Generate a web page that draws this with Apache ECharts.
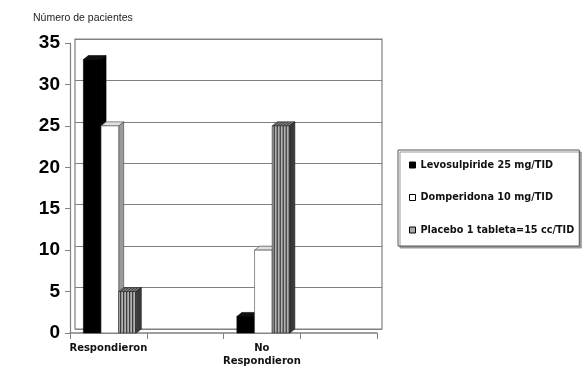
<!DOCTYPE html>
<html>
<head>
<meta charset="utf-8">
<script src="https://cdn.jsdelivr.net/npm/echarts@6/dist/echarts.min.js"></script>
<style>
  html, body { margin: 0; padding: 0; background: #fff; }
  #main { width: 587px; height: 368px; }
</style>
</head>
<body>
<div id="main"></div>
<script>
// categorias (las vacias son huecos del eje)
const categories = ['Respondieron', ' ', 'No\nRespondieron', '  '];
const seriesNames = ['Levosulpiride 25 mg/TID', 'Domperidona 10 mg/TID', 'Placebo 1 tableta=15 cc/TID'];
const levosulpiride = [33, null, 2, null];
const domperidona = [25, null, 10, null];
const placebo = [5, null, 25, null];
const yTicks = [0, 5, 10, 15, 20, 25, 30, 35];

const chart = echarts.init(document.getElementById('main'), null, { renderer: 'canvas' });

// profundidad 3D de las barras
const DX = 5, DY = -4;

function toData(arr) {
    let out = [];
    arr.forEach((v, i) => {
        if (v !== null) out.push([i, v]);
    });
    return out;
}

function makeRender(idx, look) {
    return function (params, api) {
        const top = api.coord([api.value(0), api.value(1)]);
        const base = api.coord([api.value(0), 0]);
        const w = api.size([1, 0])[0];
        const bw = w * 0.23;
        const x0 = top[0] - 1.5 * bw + idx * bw + 1.5;
        const x1 = x0 + bw;
        const y0 = top[1], y1 = base[1];
        let children = [];
        // cara lateral
        children.push({
            type: 'polygon',
            shape: { points: [[x1, y0], [x1 + DX, y0 + DY], [x1 + DX, y1 + DY], [x1, y1]] },
            style: { fill: look.side, stroke: look.stroke, lineWidth: 0.6 }
        });
        // cara superior
        children.push({
            type: 'polygon',
            shape: { points: [[x0, y0], [x0 + DX, y0 + DY], [x1 + DX, y0 + DY], [x1, y0]] },
            style: { fill: look.top, stroke: look.stroke, lineWidth: 0.6 }
        });
        // cara frontal
        children.push({
            type: 'rect',
            shape: { x: x0, y: y0, width: bw, height: y1 - y0 },
            style: { fill: look.front, stroke: look.stroke, lineWidth: 0.6 }
        });
        if (look.striped) {
            for (let x = x0 + 2; x < x1 - 0.5; x += 3) {
                children.push({
                    type: 'line',
                    shape: { x1: x, y1: y0, x2: x, y2: y1 },
                    style: { stroke: '#222', lineWidth: 1 }
                });
                children.push({
                    type: 'line',
                    shape: { x1: x, y1: y0, x2: x + DX, y2: y0 + DY },
                    style: { stroke: '#222', lineWidth: 0.8 }
                });
            }
        }
        return { type: 'group', children: children };
    };
}

const looks = [
    { front: '#000', side: '#000', top: '#111', stroke: '#000', color: '#000' },
    { front: '#fff', side: '#9a9a9a', top: '#e0e0e0', stroke: '#444', color: '#fff' },
    { front: '#b0b0b0', side: '#3a3a3a', top: '#888', stroke: '#222', color: '#aaa', striped: true }
];
const values = [levosulpiride, domperidona, placebo];

let option = {
    animation: false,
    backgroundColor: '#fff',
    title: {
        text: 'Número de pacientes',
        left: 28,
        top: 8,
        textStyle: { fontFamily: 'Liberation Sans', fontSize: 10.5, fontWeight: 'normal', color: '#222' }
    },
    legend: {
        orient: 'vertical',
        left: 398,
        top: 150,
        padding: [10, 5, 11, 11],
        itemGap: 22.5,
        itemWidth: 6,
        itemHeight: 6,
        icon: 'rect',
        backgroundColor: '#fff',
        borderColor: '#555',
        borderWidth: 1,
        shadowColor: '#999',
        shadowOffsetX: 2,
        shadowOffsetY: 2,
        shadowBlur: 0.1,
        textStyle: { fontFamily: 'DejaVu Sans', fontSize: 9.7, fontWeight: 'bold', color: '#111' },
        data: seriesNames.map(n => ({ name: n, itemStyle: { borderColor: '#000', borderWidth: 1 } }))
    },
    grid: [
        // pared del fondo
        { left: 75, right: 205, top: 39, bottom: 39, outerBoundsMode: 'none', show: true, borderColor: '#808080', borderWidth: 1.2 },
        // plano frontal
        { left: 70, right: 210, top: 43, bottom: 35, outerBoundsMode: 'none' }
    ],
    xAxis: [
        { gridIndex: 0, type: 'category', data: categories, show: false },
        {
            gridIndex: 1,
            type: 'category',
            data: categories,
            boundaryGap: true,
            axisLine: { lineStyle: { color: '#808080', width: 1.5 } },
            axisTick: { show: true, length: 6, lineStyle: { color: '#808080' } },
            axisLabel: {
                margin: 9,
                fontFamily: 'DejaVu Sans',
                fontSize: 10,
                fontWeight: 'bold',
                color: '#111',
                lineHeight: 13,
                interval: 0
            }
        }
    ],
    yAxis: [
        {
            gridIndex: 0, type: 'value', min: 0, max: 35, interval: 5,
            axisLine: { show: false }, axisTick: { show: false }, axisLabel: { show: false },
            splitLine: { lineStyle: { color: '#808080', width: 1.2 } }
        },
        {
            gridIndex: 1, type: 'value', min: yTicks[0], max: yTicks[yTicks.length - 1], interval: 5,
            axisLine: { show: true, lineStyle: { color: '#808080', width: 1.2 } },
            axisTick: { show: true, length: 5, lineStyle: { color: '#808080' } },
            splitLine: { show: false },
            axisLabel: {
                margin: 10,
                fontFamily: 'Liberation Sans',
                fontSize: 19,
                fontWeight: 'bold',
                color: '#000'
            }
        }
    ],
    series: values.map((arr, i) => ({
        name: seriesNames[i],
        type: 'custom',
        xAxisIndex: 1,
        yAxisIndex: 1,
        itemStyle: { color: looks[i].color },
        encode: { x: 0, y: 1 },
        renderItem: makeRender(i, looks[i]),
        data: toData(arr)
    }))
};

chart.setOption(option);
</script>
</body>
</html>
